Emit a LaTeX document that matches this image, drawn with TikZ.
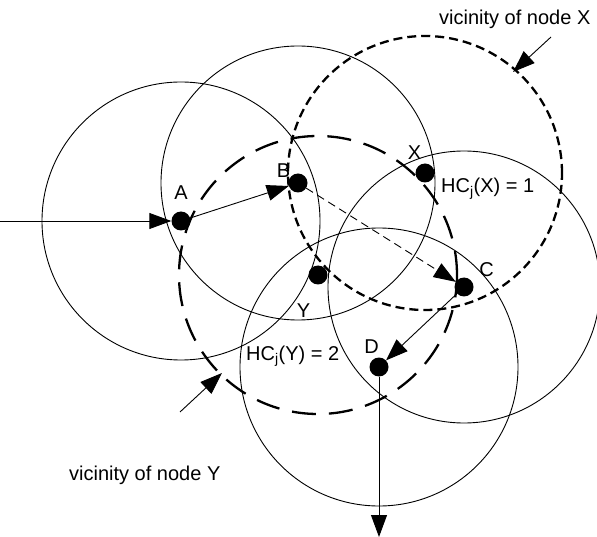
\documentclass[tikz,border=0pt]{standalone}
\usepackage{fontspec}
\setmainfont{Liberation Sans}
\usetikzlibrary{arrows.meta,positioning}

\begin{document}
\begin{tikzpicture}[
    x=1pt,y=-1pt,
    font=\fontsize{20}{24}\selectfont,
    dot/.style={circle,fill=black,minimum size=19pt,inner sep=0pt},
    lbl/.style={inner sep=0pt,anchor=base},
    txrange/.style={line width=0.9pt},
    vicX/.style={line width=2.3pt,dash pattern=on 9pt off 5pt},
    vicY/.style={line width=2.3pt,dash pattern=on 24pt off 13pt},
    arrow/.style={-{Triangle[length=22pt,width=16pt]},line width=0.9pt},
    hop/.style={arrow,dash pattern=on 8pt off 5pt}
  ]
    \useasboundingbox (0,0) rectangle (597,537);
    % mobile nodes
    \node[dot] (A) at (181,221) {};
    \node[dot] (B) at (298,183) {};
    \node[dot] (X) at (425,173) {};
    \node[dot] (Y) at (318,275) {};
    \node[dot] (C) at (464,287) {};
    \node[dot] (D) at (379,367) {};
    \node[lbl] (tA) at (181,200) {A};
    \node[lbl] (tB) at (283.5,178) {B};
    \node[lbl] (tX) at (414.5,160) {X};
    \node[lbl] (tY) at (303.5,317) {Y};
    \node[lbl] (tC) at (486.5,277) {C};
    \node[lbl] (tD) at (371.5,353) {D};
    \node[lbl,anchor=base west] (hcX) at (441,193) {HC\textsubscript{j}(X) = 1};
    \node[lbl,anchor=base west] (hcY) at (246,360) {HC\textsubscript{j}(Y) = 2};
    \node[lbl,anchor=base west] (vX) at (439,25) {vicinity of node X};
    \node[lbl,anchor=base west] (vY) at (69,480) {vicinity of node Y};
    % transmission ranges
    \draw[txrange] (A) circle[radius=139pt];
    \draw[txrange] (B) circle[radius=137pt];
    \draw[txrange] (C) circle[radius=136pt];
    \draw[txrange] (D) circle[radius=139pt];
    \draw[vicX] (X) circle[radius=137pt];
    \draw[vicY] (Y) circle[radius=139pt];
    % route
    \coordinate (src) at (0,221);
    \coordinate (dst) at (379,537);
    \draw[arrow] (src) -- (A);
    \draw[arrow] (A) -- (B);
    \draw[hop] (B) -- (C);
    \draw[arrow] (C) -- (D);
    \draw[arrow] (D) -- (dst);
    % pointers to the vicinities
    \coordinate (pX) at (551,37);
    \coordinate (qX) at (513,72);
    \coordinate (pY) at (180,412);
    \coordinate (qY) at (222,373);
    \draw[arrow] (pX) -- (qX);
    \draw[arrow] (pY) -- (qY);
  \end{tikzpicture}
\end{document}
